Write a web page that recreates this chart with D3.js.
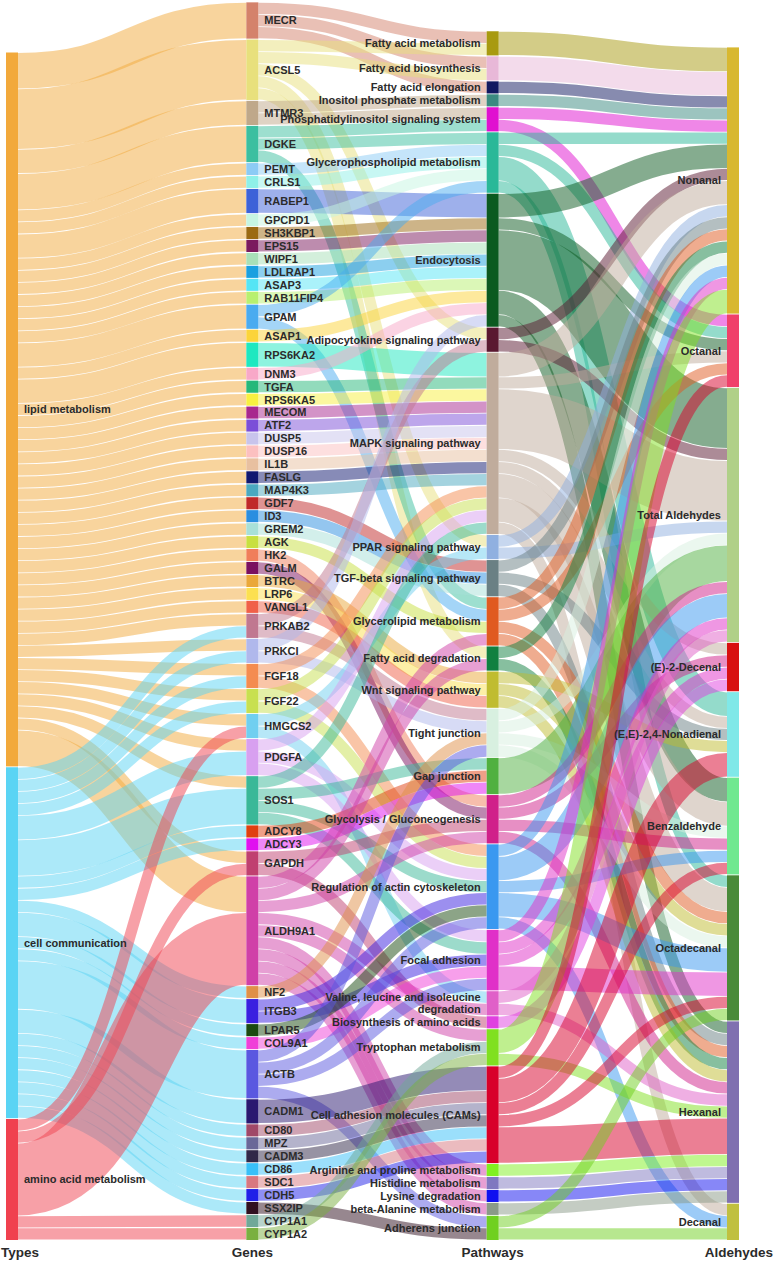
<!DOCTYPE html>
<html>
<head>
<meta charset="utf-8">
<script src="https://cdn.jsdelivr.net/npm/d3@7"></script>
<style>
  body { margin: 0; background: #fff; }
  text { font-family: Arial, "Liberation Sans", sans-serif; font-weight: bold; fill: #2b2b2b; }
</style>
</head>
<body>
<div id="chart"></div>
<script>
// ---- data ----
const columnTitles = ['Types', 'Genes', 'Pathways', 'Aldehydes'];

const types = ['lipid metabolism', 'cell communication', 'amino acid metabolism'];
const typeColors = ['#f2a93b', '#5ad4f4', '#f0414f'];

const genes = ['MECR', 'ACSL5', 'MTMR3', 'DGKE', 'PEMT', 'CRLS1', 'RABEP1', 'GPCPD1', 'SH3KBP1', 'EPS15',
  'WIPF1', 'LDLRAP1', 'ASAP3', 'RAB11FIP4', 'GPAM', 'ASAP1', 'RPS6KA2', 'DNM3', 'TGFA', 'RPS6KA5',
  'MECOM', 'ATF2', 'DUSP5', 'DUSP16', 'IL1B', 'FASLG', 'MAP4K3', 'GDF7', 'ID3', 'GREM2',
  'AGK', 'HK2', 'GALM', 'BTRC', 'LRP6', 'VANGL1', 'PRKAB2', 'PRKCI', 'FGF18', 'FGF22',
  'HMGCS2', 'PDGFA', 'SOS1', 'ADCY8', 'ADCY3', 'GAPDH', 'ALDH9A1', 'NF2', 'ITGB3', 'LPAR5',
  'COL9A1', 'ACTB', 'CADM1', 'CD80', 'MPZ', 'CADM3', 'CD86', 'SDC1', 'CDH5', 'SSX2IP',
  'CYP1A1', 'CYP1A2'];
const geneColors = ['#d4826b', '#e8e07c', '#bfa88a', '#3cbfa0', '#8ccbf5', '#8ff0e8', '#3d62d8', '#c6f5e2', '#9b6a12', '#7b1a5e',
  '#a8e0b8', '#1aa0e0', '#55e5f5', '#b8f070', '#4aabf0', '#fcd43a', '#1ee8c0', '#f8a8c8', '#25b87a', '#f8f040',
  '#a8288f', '#7b4ed8', '#c8c4ec', '#fcc0c0', '#e8c0a0', '#101870', '#4aa8c0', '#c02828', '#2a8ee0', '#a8e0d8',
  '#c8e040', '#f07e5a', '#7a1060', '#eaa83a', '#fce050', '#f06048', '#c07890', '#b0b8ec', '#f48c50', '#c8e050',
  '#70cff0', '#d8a0f0', '#3ab898', '#e04010', '#e010f0', '#c04070', '#d040a8', '#e09048', '#3a20e0', '#1a4a10',
  '#f040d8', '#5a58e0', '#2a1870', '#a04868', '#6a6898', '#302848', '#38c0f8', '#d87880', '#2020e8', '#301020',
  '#70a898', '#7ab040'];

const pathways = ['Fatty acid metabolism', 'Fatty acid biosynthesis', 'Fatty acid elongation',
  'Inositol phosphate metabolism', 'Phosphatidylinositol signaling system', 'Glycerophospholipid metabolism',
  'Endocytosis', 'Adipocytokine signaling pathway', 'MAPK signaling pathway', 'PPAR signaling pathway',
  'TGF-beta signaling pathway', 'Glycerolipid metabolism', 'Fatty acid degradation', 'Wnt signaling pathway',
  'Tight junction', 'Gap junction', 'Glycolysis / Gluconeogenesis', 'Regulation of actin cytoskeleton',
  'Focal adhesion', 'Valine, leucine and isoleucine degradation', 'Biosynthesis of amino acids',
  'Tryptophan metabolism', 'Cell adhesion molecules (CAMs)', 'Arginine and proline metabolism',
  'Histidine metabolism', 'Lysine degradation', 'beta-Alanine metabolism', 'Adherens junction'];
const pathwayColors = ['#a89a10', '#e8b8d8', '#101860', '#3a8a80', '#e010d0', '#2ab898',
  '#0b5a20', '#5a1830', '#c0ac9c', '#90b0e0', '#6a8084', '#e05a20', '#108040', '#c0bc30',
  '#d8f0e0', '#50b040', '#d0208a', '#3a98f0', '#e030c8', '#e060c8', '#e040e0',
  '#80e020', '#d8002a', '#80f020', '#8078c0', '#1010f0', '#8a9a88', '#70d020'];

const aldehydes = ['Nonanal', 'Octanal', 'Total Aldehydes', '(E)-2-Decenal', '(E,E)-2,4-Nonadienal',
  'Benzaldehyde', 'Octadecanal', 'Hexanal', 'Decanal'];
const aldehydeColors = ['#d8b830', '#f0406a', '#b0d088', '#d81010', '#80e8e8',
  '#70e890', '#4a8a3a', '#8070b0', '#c0c040'];

// [type, gene, value]
const typeGeneLinks = [
  ['lipid metabolism', 'MECR', 3], ['lipid metabolism', 'ACSL5', 5], ['lipid metabolism', 'MTMR3', 2],
  ['lipid metabolism', 'DGKE', 3], ['lipid metabolism', 'PEMT', 1], ['lipid metabolism', 'CRLS1', 1],
  ['lipid metabolism', 'RABEP1', 2], ['lipid metabolism', 'GPCPD1', 1], ['lipid metabolism', 'SH3KBP1', 1],
  ['lipid metabolism', 'EPS15', 1], ['lipid metabolism', 'WIPF1', 1], ['lipid metabolism', 'LDLRAP1', 1],
  ['lipid metabolism', 'ASAP3', 1], ['lipid metabolism', 'RAB11FIP4', 1], ['lipid metabolism', 'GPAM', 2],
  ['lipid metabolism', 'ASAP1', 1], ['lipid metabolism', 'RPS6KA2', 2], ['lipid metabolism', 'DNM3', 1],
  ['lipid metabolism', 'TGFA', 1], ['lipid metabolism', 'RPS6KA5', 1], ['lipid metabolism', 'MECOM', 1],
  ['lipid metabolism', 'ATF2', 1], ['lipid metabolism', 'DUSP5', 1], ['lipid metabolism', 'DUSP16', 1],
  ['lipid metabolism', 'IL1B', 1], ['lipid metabolism', 'FASLG', 1], ['lipid metabolism', 'MAP4K3', 1],
  ['lipid metabolism', 'GDF7', 1], ['lipid metabolism', 'ID3', 1], ['lipid metabolism', 'GREM2', 1],
  ['lipid metabolism', 'AGK', 1], ['lipid metabolism', 'HK2', 1], ['lipid metabolism', 'GALM', 1],
  ['lipid metabolism', 'BTRC', 1], ['lipid metabolism', 'LRP6', 1], ['lipid metabolism', 'VANGL1', 1],
  ['lipid metabolism', 'PRKAB2', 1], ['lipid metabolism', 'PRKCI', 1], ['lipid metabolism', 'FGF18', 1],
  ['lipid metabolism', 'FGF22', 1], ['lipid metabolism', 'HMGCS2', 1], ['lipid metabolism', 'PDGFA', 1],
  ['lipid metabolism', 'SOS1', 1], ['lipid metabolism', 'GAPDH', 1], ['lipid metabolism', 'ALDH9A1', 3],
  ['cell communication', 'PRKAB2', 1], ['cell communication', 'PRKCI', 1], ['cell communication', 'FGF18', 1],
  ['cell communication', 'FGF22', 1], ['cell communication', 'PDGFA', 2], ['cell communication', 'SOS1', 3],
  ['cell communication', 'ADCY8', 1], ['cell communication', 'ADCY3', 1], ['cell communication', 'NF2', 1],
  ['cell communication', 'ITGB3', 2], ['cell communication', 'LPAR5', 1], ['cell communication', 'COL9A1', 1],
  ['cell communication', 'ACTB', 4], ['cell communication', 'CADM1', 2], ['cell communication', 'CD80', 1],
  ['cell communication', 'MPZ', 1], ['cell communication', 'CADM3', 1], ['cell communication', 'CD86', 1],
  ['cell communication', 'SDC1', 1], ['cell communication', 'CDH5', 1], ['cell communication', 'SSX2IP', 1],
  ['amino acid metabolism', 'HMGCS2', 1], ['amino acid metabolism', 'GAPDH', 1],
  ['amino acid metabolism', 'ALDH9A1', 6], ['amino acid metabolism', 'CYP1A1', 1],
  ['amino acid metabolism', 'CYP1A2', 1]
];

// [gene, pathway, value]
const genePathwayLinks = [
  ['MECR', 'Fatty acid metabolism', 1], ['MECR', 'Fatty acid biosynthesis', 1], ['MECR', 'Fatty acid elongation', 1],
  ['ACSL5', 'Fatty acid metabolism', 1], ['ACSL5', 'Fatty acid biosynthesis', 1],
  ['ACSL5', 'Adipocytokine signaling pathway', 1], ['ACSL5', 'PPAR signaling pathway', 1],
  ['ACSL5', 'Fatty acid degradation', 1],
  ['MTMR3', 'Inositol phosphate metabolism', 1], ['MTMR3', 'Phosphatidylinositol signaling system', 1],
  ['DGKE', 'Phosphatidylinositol signaling system', 1], ['DGKE', 'Glycerophospholipid metabolism', 1],
  ['DGKE', 'Glycerolipid metabolism', 1],
  ['PEMT', 'Glycerophospholipid metabolism', 1], ['CRLS1', 'Glycerophospholipid metabolism', 1],
  ['RABEP1', 'Endocytosis', 2], ['GPCPD1', 'Glycerophospholipid metabolism', 1],
  ['SH3KBP1', 'Endocytosis', 1], ['EPS15', 'Endocytosis', 1], ['WIPF1', 'Endocytosis', 1],
  ['LDLRAP1', 'Endocytosis', 1], ['ASAP3', 'Endocytosis', 1], ['RAB11FIP4', 'Endocytosis', 1],
  ['GPAM', 'Glycerophospholipid metabolism', 1], ['GPAM', 'Glycerolipid metabolism', 1],
  ['ASAP1', 'Endocytosis', 1], ['RPS6KA2', 'MAPK signaling pathway', 2], ['DNM3', 'Endocytosis', 1],
  ['TGFA', 'MAPK signaling pathway', 1], ['RPS6KA5', 'MAPK signaling pathway', 1],
  ['MECOM', 'MAPK signaling pathway', 1], ['ATF2', 'MAPK signaling pathway', 1],
  ['DUSP5', 'MAPK signaling pathway', 1], ['DUSP16', 'MAPK signaling pathway', 1],
  ['IL1B', 'MAPK signaling pathway', 1], ['FASLG', 'MAPK signaling pathway', 1],
  ['MAP4K3', 'MAPK signaling pathway', 1],
  ['GDF7', 'TGF-beta signaling pathway', 1], ['ID3', 'TGF-beta signaling pathway', 1],
  ['GREM2', 'TGF-beta signaling pathway', 1],
  ['AGK', 'Glycerolipid metabolism', 1],
  ['HK2', 'Glycolysis / Gluconeogenesis', 1], ['GALM', 'Glycolysis / Gluconeogenesis', 1],
  ['BTRC', 'Wnt signaling pathway', 1], ['LRP6', 'Wnt signaling pathway', 1], ['VANGL1', 'Wnt signaling pathway', 1],
  ['PRKAB2', 'Adipocytokine signaling pathway', 1], ['PRKAB2', 'Tight junction', 1],
  ['PRKCI', 'Endocytosis', 1], ['PRKCI', 'Tight junction', 1],
  ['FGF18', 'MAPK signaling pathway', 1], ['FGF18', 'Regulation of actin cytoskeleton', 1],
  ['FGF22', 'MAPK signaling pathway', 1], ['FGF22', 'Regulation of actin cytoskeleton', 1],
  ['HMGCS2', 'PPAR signaling pathway', 1], ['HMGCS2', 'Valine, leucine and isoleucine degradation', 1],
  ['PDGFA', 'MAPK signaling pathway', 1], ['PDGFA', 'Regulation of actin cytoskeleton', 1],
  ['PDGFA', 'Focal adhesion', 1],
  ['SOS1', 'MAPK signaling pathway', 1], ['SOS1', 'Gap junction', 1],
  ['SOS1', 'Regulation of actin cytoskeleton', 1], ['SOS1', 'Focal adhesion', 1],
  ['ADCY8', 'Gap junction', 1], ['ADCY3', 'Gap junction', 1],
  ['GAPDH', 'Glycolysis / Gluconeogenesis', 1], ['GAPDH', 'Biosynthesis of amino acids', 1],
  ['ALDH9A1', 'Glycerolipid metabolism', 1], ['ALDH9A1', 'Fatty acid degradation', 1],
  ['ALDH9A1', 'Glycolysis / Gluconeogenesis', 1], ['ALDH9A1', 'Valine, leucine and isoleucine degradation', 1],
  ['ALDH9A1', 'Tryptophan metabolism', 1], ['ALDH9A1', 'Arginine and proline metabolism', 1],
  ['ALDH9A1', 'Histidine metabolism', 1], ['ALDH9A1', 'Lysine degradation', 1],
  ['ALDH9A1', 'beta-Alanine metabolism', 1],
  ['NF2', 'Tight junction', 1],
  ['ITGB3', 'Regulation of actin cytoskeleton', 1], ['ITGB3', 'Focal adhesion', 1],
  ['LPAR5', 'Regulation of actin cytoskeleton', 1], ['COL9A1', 'Focal adhesion', 1],
  ['ACTB', 'Tight junction', 1], ['ACTB', 'Regulation of actin cytoskeleton', 1],
  ['ACTB', 'Focal adhesion', 1], ['ACTB', 'Adherens junction', 1],
  ['CADM1', 'Cell adhesion molecules (CAMs)', 2], ['CD80', 'Cell adhesion molecules (CAMs)', 1],
  ['MPZ', 'Cell adhesion molecules (CAMs)', 1], ['CADM3', 'Cell adhesion molecules (CAMs)', 1],
  ['CD86', 'Cell adhesion molecules (CAMs)', 1], ['SDC1', 'Cell adhesion molecules (CAMs)', 1],
  ['CDH5', 'Cell adhesion molecules (CAMs)', 1], ['SSX2IP', 'Adherens junction', 1],
  ['CYP1A1', 'Tryptophan metabolism', 1], ['CYP1A2', 'Tryptophan metabolism', 1]
];

// [pathway, aldehyde, value]
const pathwayAldehydeLinks = [
  ['Fatty acid metabolism', 'Nonanal', 2],
  ['Fatty acid biosynthesis', 'Nonanal', 2],
  ['Fatty acid elongation', 'Nonanal', 1],
  ['Inositol phosphate metabolism', 'Nonanal', 1],
  ['Phosphatidylinositol signaling system', 'Nonanal', 1], ['Phosphatidylinositol signaling system', 'Octanal', 1],
  ['Glycerophospholipid metabolism', 'Nonanal', 1], ['Glycerophospholipid metabolism', 'Octanal', 1],
  ['Glycerophospholipid metabolism', '(E,E)-2,4-Nonadienal', 2], ['Glycerophospholipid metabolism', 'Octadecanal', 1],
  ['Endocytosis', 'Nonanal', 2], ['Endocytosis', 'Octanal', 1], ['Endocytosis', 'Total Aldehydes', 5],
  ['Endocytosis', 'Benzaldehyde', 2], ['Endocytosis', 'Hexanal', 1],
  ['Adipocytokine signaling pathway', 'Nonanal', 1], ['Adipocytokine signaling pathway', 'Total Aldehydes', 1],
  ['MAPK signaling pathway', 'Nonanal', 2], ['MAPK signaling pathway', 'Octanal', 1],
  ['MAPK signaling pathway', 'Total Aldehydes', 5], ['MAPK signaling pathway', '(E)-2-Decenal', 1],
  ['MAPK signaling pathway', '(E,E)-2,4-Nonadienal', 1], ['MAPK signaling pathway', 'Benzaldehyde', 2],
  ['MAPK signaling pathway', 'Octadecanal', 2], ['MAPK signaling pathway', 'Decanal', 1],
  ['PPAR signaling pathway', 'Nonanal', 1], ['PPAR signaling pathway', 'Total Aldehydes', 1],
  ['TGF-beta signaling pathway', 'Nonanal', 1], ['TGF-beta signaling pathway', '(E,E)-2,4-Nonadienal', 1],
  ['TGF-beta signaling pathway', 'Hexanal', 1],
  ['Glycerolipid metabolism', 'Nonanal', 1], ['Glycerolipid metabolism', 'Octanal', 1],
  ['Glycerolipid metabolism', 'Octadecanal', 1], ['Glycerolipid metabolism', 'Hexanal', 1],
  ['Fatty acid degradation', 'Nonanal', 1], ['Fatty acid degradation', 'Hexanal', 1],
  ['Wnt signaling pathway', '(E,E)-2,4-Nonadienal', 1], ['Wnt signaling pathway', 'Octadecanal', 1],
  ['Wnt signaling pathway', 'Hexanal', 1],
  ['Tight junction', 'Nonanal', 1], ['Tight junction', 'Total Aldehydes', 1],
  ['Tight junction', 'Benzaldehyde', 1], ['Tight junction', 'Octadecanal', 1],
  ['Gap junction', 'Total Aldehydes', 3],
  ['Glycolysis / Gluconeogenesis', 'Total Aldehydes', 1], ['Glycolysis / Gluconeogenesis', '(E)-2-Decenal', 1],
  ['Glycolysis / Gluconeogenesis', 'Benzaldehyde', 1], ['Glycolysis / Gluconeogenesis', 'Hexanal', 1],
  ['Regulation of actin cytoskeleton', 'Nonanal', 1], ['Regulation of actin cytoskeleton', 'Total Aldehydes', 2],
  ['Regulation of actin cytoskeleton', 'Benzaldehyde', 1], ['Regulation of actin cytoskeleton', 'Octadecanal', 2],
  ['Regulation of actin cytoskeleton', 'Decanal', 1],
  ['Focal adhesion', 'Nonanal', 1], ['Focal adhesion', 'Total Aldehydes', 1],
  ['Focal adhesion', '(E)-2-Decenal', 1], ['Focal adhesion', 'Octadecanal', 2],
  ['Valine, leucine and isoleucine degradation', 'Total Aldehydes', 1],
  ['Valine, leucine and isoleucine degradation', 'Hexanal', 1],
  ['Biosynthesis of amino acids', '(E)-2-Decenal', 1],
  ['Tryptophan metabolism', 'Nonanal', 2], ['Tryptophan metabolism', 'Hexanal', 1],
  ['Cell adhesion molecules (CAMs)', 'Octanal', 1], ['Cell adhesion molecules (CAMs)', '(E,E)-2,4-Nonadienal', 2],
  ['Cell adhesion molecules (CAMs)', 'Benzaldehyde', 1], ['Cell adhesion molecules (CAMs)', 'Octadecanal', 1],
  ['Cell adhesion molecules (CAMs)', 'Hexanal', 3],
  ['Arginine and proline metabolism', 'Hexanal', 1],
  ['Histidine metabolism', 'Hexanal', 1],
  ['Lysine degradation', 'Hexanal', 1],
  ['beta-Alanine metabolism', 'Hexanal', 1],
  ['Adherens junction', 'Octadecanal', 1], ['Adherens junction', 'Decanal', 1]
];

const wrappedLabels = {
  'Valine, leucine and isoleucine degradation': ['Valine, leucine and isoleucine', 'degradation']
};

// ---- layout ----
const width = 775;
const height = 1262;
const nodeWidth = 12;
const nodePadding = 0.85;
const chartBottom = 1240;

const x = d3.scalePoint().domain(d3.range(4)).range([6, 727]);
const ky = d3.scaleLinear().domain([0, 1]).range([0, 12.1]);

const columns = [
  types.map((n, i) => ({ name: n, color: typeColors[i] })),
  genes.map((n, i) => ({ name: n, color: geneColors[i] })),
  pathways.map((n, i) => ({ name: n, color: pathwayColors[i] })),
  aldehydes.map((n, i) => ({ name: n, color: aldehydeColors[i] }))
];

const byName = [];
columns.forEach((col, c) => {
  byName[c] = new Map();
  col.forEach(n => {
    n.col = c;
    n.x0 = x(c);
    n.x1 = x(c) + nodeWidth;
    n.sourceLinks = [];
    n.targetLinks = [];
    byName[c].set(n.name, n);
  });
});

const links = [];
[typeGeneLinks, genePathwayLinks, pathwayAldehydeLinks].forEach((set, c) => {
  set.forEach(([s, t, v]) => {
    const l = { source: byName[c].get(s), target: byName[c + 1].get(t), value: v };
    l.source.sourceLinks.push(l);
    l.target.targetLinks.push(l);
    links.push(l);
  });
});

columns.forEach(col => {
  col.forEach(n => {
    n.value = Math.max(d3.sum(n.sourceLinks, l => l.value), d3.sum(n.targetLinks, l => l.value));
  });
  const total = d3.sum(col, n => ky(n.value)) + nodePadding * (col.length - 1);
  let y = chartBottom - total;
  col.forEach(n => {
    n.y0 = y;
    n.y1 = y + ky(n.value);
    y = n.y1 + nodePadding;
  });
});

columns.forEach(col => {
  col.forEach(n => {
    n.sourceLinks.sort((a, b) => a.target.y0 - b.target.y0);
    n.targetLinks.sort((a, b) => a.source.y0 - b.source.y0);
    let y0 = n.y0;
    n.sourceLinks.forEach(l => {
      l.width = ky(l.value);
      l.y0 = y0 + l.width / 2;
      y0 += l.width;
    });
    let y1 = n.y0;
    n.targetLinks.forEach(l => {
      l.y1 = y1 + ky(l.value) / 2;
      y1 += ky(l.value);
    });
  });
});

// ---- draw ----
const svg = d3.select('#chart').append('svg')
  .attr('width', width)
  .attr('height', height);

const linkPath = d3.linkHorizontal()
  .source(d => [d.source.x1, d.y0])
  .target(d => [d.target.x0, d.y1]);

svg.append('g')
  .attr('fill', 'none')
  .selectAll('path')
  .data(links)
  .enter().append('path')
  .attr('d', linkPath)
  .attr('stroke', d => d.source.color)
  .attr('stroke-opacity', 0.5)
  .attr('stroke-width', d => Math.max(0.8, d.width - 0.8));

const allNodes = columns.flat();

svg.append('g')
  .selectAll('rect')
  .data(allNodes)
  .enter().append('rect')
  .attr('x', d => d.x0)
  .attr('y', d => d.y0)
  .attr('width', nodeWidth)
  .attr('height', d => d.y1 - d.y0)
  .attr('fill', d => d.color);

const label = svg.append('g')
  .attr('font-size', 11)
  .selectAll('text')
  .data(allNodes)
  .enter().append('text')
  .attr('x', d => d.col < 2 ? d.x1 + 6 : d.x0 - 6)
  .attr('y', d => (d.y0 + d.y1) / 2)
  .attr('text-anchor', d => d.col < 2 ? 'start' : 'end');

label.each(function (d) {
  const lines = wrappedLabels[d.name] || [d.name];
  const t = d3.select(this);
  lines.forEach((line, i) => {
    t.append('tspan')
      .attr('x', d.col < 2 ? d.x1 + 6 : d.x0 - 6)
      .attr('dy', i === 0 ? (0.35 - (lines.length - 1) * 0.55) + 'em' : '1.1em')
      .text(line);
  });
});

svg.append('g')
  .attr('font-size', 13.5)
  .selectAll('text')
  .data(columnTitles)
  .enter().append('text')
  .attr('x', (d, i) => i === 0 ? 1 : i === 3 ? width - 2 : x(i) + nodeWidth / 2)
  .attr('y', 1257)
  .attr('text-anchor', (d, i) => i === 0 ? 'start' : i === 3 ? 'end' : 'middle')
  .text(d => d);
</script>
</body>
</html>
